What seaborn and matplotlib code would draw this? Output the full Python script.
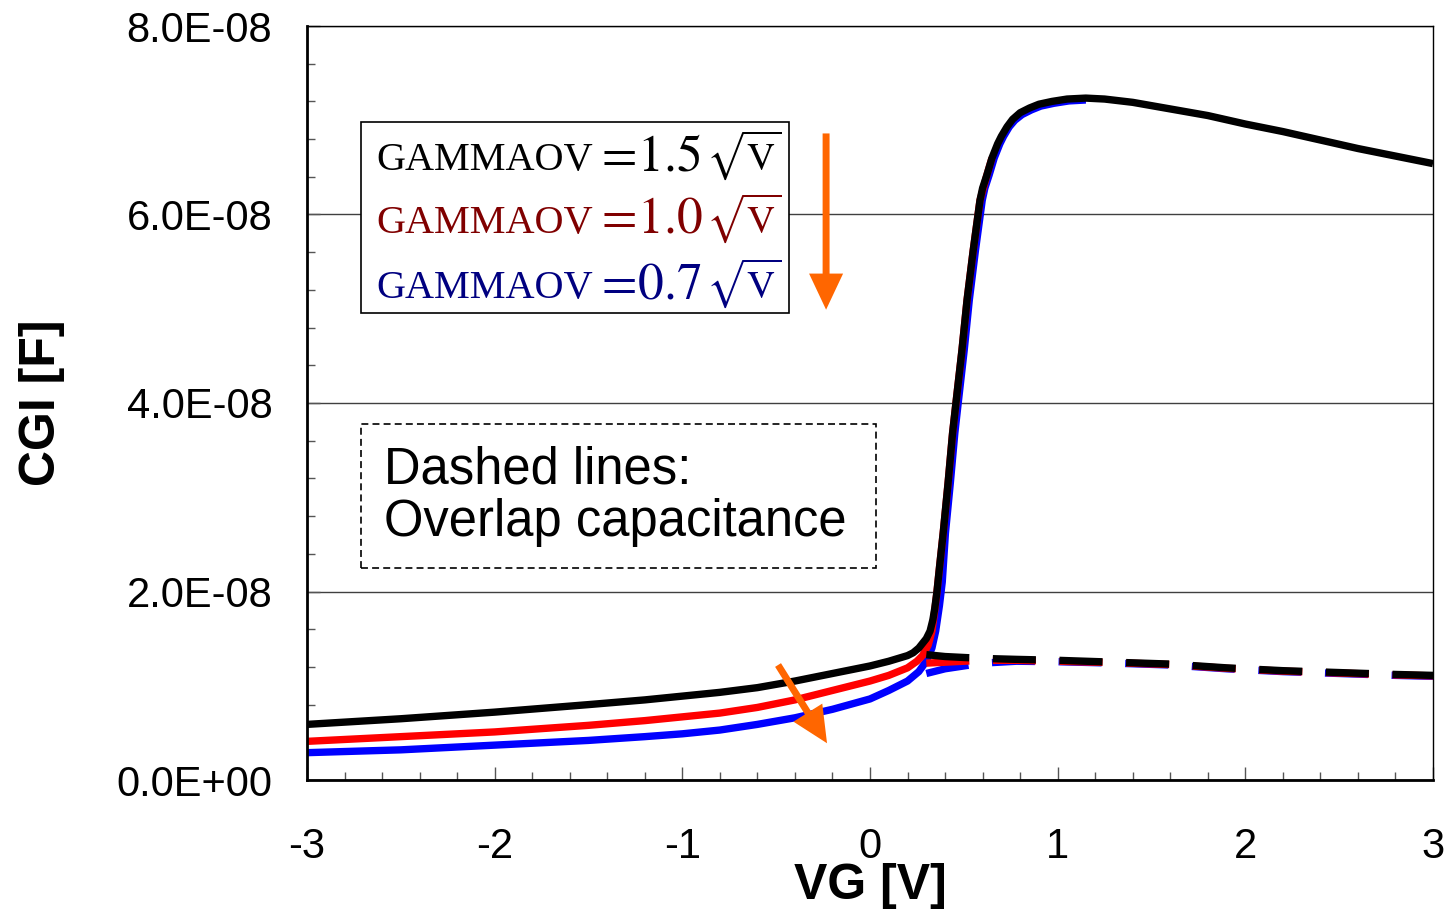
import matplotlib
matplotlib.use("Agg")
import matplotlib.pyplot as plt
from matplotlib.patches import Rectangle
from matplotlib.ticker import MultipleLocator, FuncFormatter
import numpy as np
import pandas as pd
import seaborn as sns

# ---------------- data (CGI in units of 1E-08 F) ----------------
vg_black = [-3.0, -2.5, -2.0, -1.5, -1.2, -1.0, -0.8, -0.6, -0.4, -0.2, 0.0, 0.1,
            0.15, 0.20, 0.23, 0.26, 0.28, 0.30, 0.32, 0.335, 0.345, 0.357, 0.37,
            0.39, 0.416, 0.44, 0.458, 0.49, 0.517, 0.55, 0.586, 0.60, 0.623, 0.65,
            0.68, 0.70, 0.73, 0.76, 0.80, 0.85, 0.90, 0.97, 1.05, 1.15, 1.25, 1.40,
            1.60, 1.80, 2.00, 2.20, 2.40, 2.60, 2.80, 3.00]
cgi_black = [0.59, 0.65, 0.72, 0.80, 0.85, 0.89, 0.93, 0.98, 1.05, 1.13, 1.21, 1.26,
             1.29, 1.32, 1.35, 1.40, 1.45, 1.50, 1.58, 1.70, 1.82, 2.00, 2.25,
             2.62, 3.15, 3.68, 4.00, 4.56, 5.09, 5.62, 6.15, 6.28, 6.42, 6.60,
             6.75, 6.83, 6.93, 7.01, 7.08, 7.13, 7.17, 7.20, 7.225, 7.235, 7.225, 7.19,
             7.12, 7.05, 6.96, 6.88, 6.79, 6.70, 6.62, 6.54]

vg_red = [-3.0, -2.5, -2.0, -1.5, -1.2, -1.0, -0.8, -0.6, -0.4, -0.2, 0.0, 0.1,
          0.2, 0.25, 0.28, 0.31, 0.33, 0.345, 0.357, 0.37, 0.39, 0.416, 0.44, 0.458,
          0.49, 0.517, 0.55, 0.586, 0.623, 0.65]
cgi_red = [0.41, 0.46, 0.51, 0.58, 0.63, 0.67, 0.71, 0.77, 0.85, 0.95, 1.05, 1.11,
           1.19, 1.26, 1.32, 1.43, 1.58, 1.80, 2.00, 2.25, 2.62, 3.15, 3.68, 4.00,
           4.56, 5.09, 5.62, 6.15, 6.42, 6.60]

vg_blue = [-3.0, -2.5, -2.0, -1.5, -1.2, -1.0, -0.8, -0.6, -0.4, -0.2, 0.0, 0.1,
           0.2, 0.26, 0.30, 0.33, 0.35, 0.37, 0.385, 0.402, 0.428, 0.452, 0.47,
           0.502, 0.529, 0.562, 0.598, 0.612, 0.635, 0.662, 0.692, 0.712, 0.742,
           0.772, 0.81, 0.86, 0.91, 0.98, 1.06, 1.15]
cgi_blue = [0.29, 0.32, 0.37, 0.42, 0.46, 0.49, 0.53, 0.59, 0.66, 0.75, 0.86, 0.95,
            1.05, 1.15, 1.26, 1.40, 1.58, 1.85, 2.10, 2.62, 3.15, 3.68, 4.00,
            4.56, 5.09, 5.62, 6.15, 6.28, 6.42, 6.60, 6.75, 6.83, 6.93, 7.00,
            7.06, 7.11, 7.15, 7.18, 7.205, 7.215]

# overlap capacitance (dashed)
vg_ov = [0.30, 0.40, 0.50, 0.60, 0.78, 1.00, 1.30, 1.60, 1.90, 2.20, 2.50, 2.80, 3.00]
ov_black = [1.33, 1.31, 1.30, 1.29, 1.28, 1.27, 1.25, 1.23, 1.19, 1.16, 1.14, 1.12, 1.11]
ov_red = [1.24, 1.25, 1.26, 1.27, 1.27, 1.26, 1.245, 1.225, 1.185, 1.155, 1.135, 1.115, 1.105]
ov_blue = [1.13, 1.18, 1.21, 1.24, 1.26, 1.255, 1.24, 1.22, 1.18, 1.15, 1.13, 1.11, 1.10]

x_ticks = [-3, -2, -1, 0, 1, 2, 3]
y_ticks = [0.0, 2.0, 4.0, 6.0, 8.0]
SCALE = 1e-8

legend_name = "GAMMAOV"
legend_values = ["1.5", "1.0", "0.7"]
legend_colors = ["#000000", "#800000", "#000080"]
note_lines = ["Dashed lines:", "Overlap capacitance"]

# ---------------- style ----------------
sns.set_theme(style="white")
plt.rcParams["font.family"] = ["Liberation Sans", "DejaVu Sans"]
plt.rcParams["mathtext.fontset"] = "stix"
plt.rcParams["lines.scale_dashes"] = False
for k in ["text.color", "axes.labelcolor", "xtick.color", "ytick.color"]:
    plt.rcParams[k] = "black"

fig = plt.figure(figsize=(14.49, 9.14), dpi=100)
ax = fig.add_axes([307 / 1449, 1 - 780 / 914, (1433 - 307) / 1449, (780 - 26) / 914])

LW = 5.3
DASH = (0, (31.0, 17.0))

def draw(x, y, color, ls="-"):
    df = pd.DataFrame({"VG": x, "CGI": np.asarray(y) * SCALE})
    sns.lineplot(data=df, x="VG", y="CGI", ax=ax, color=color, lw=LW, sort=False,
                 estimator=None, linestyle=ls, solid_capstyle="butt",
                 solid_joinstyle="round", dash_capstyle="butt", legend=False)

draw(vg_blue, cgi_blue, "#0000FF")
draw(vg_red, cgi_red, "#FF0000")
draw(vg_black, cgi_black, "#000000")
draw(vg_ov, ov_blue, "#0000FF", DASH)
draw(vg_ov, ov_red, "#FF0000", DASH)
draw(vg_ov, ov_black, "#000000", DASH)

ax.set_xlim(-3, 3)
ax.set_ylim(0, 8 * SCALE)
ax.set_xticks(x_ticks)
ax.set_yticks([v * SCALE for v in y_ticks])
ax.xaxis.set_minor_locator(MultipleLocator(0.2))
ax.yaxis.set_minor_locator(MultipleLocator(0.4 * SCALE))
ax.yaxis.set_major_formatter(FuncFormatter(lambda v, p: f"{v:.1E}"))
ax.xaxis.set_major_formatter(FuncFormatter(lambda v, p: f"{v:g}"))

ax.grid(axis="y", which="major", color="#404040", lw=1.0)
ax.grid(axis="x", visible=False)
ax.set_axisbelow(True)

ax.tick_params(axis="both", which="both", direction="in", labelcolor="black",
               labelsize=30, bottom=True, left=True, top=False, right=False)
ax.tick_params(axis="x", which="major", length=9.5, width=1.0, color="#555555", pad=34)
ax.tick_params(axis="x", which="minor", length=6, width=1.0, color="#555555")
ax.tick_params(axis="y", which="major", length=9.5, width=1.0, color="#555555", pad=25)
ax.tick_params(axis="y", which="minor", length=6, width=1.0, color="#555555")

for side in ["left", "bottom"]:
    ax.spines[side].set_linewidth(2.0)
    ax.spines[side].set_color("#000000")
for side in ["top", "right"]:
    ax.spines[side].set_linewidth(1.0)
    ax.spines[side].set_color("#000000")
    ax.spines[side].set_visible(True)

ax.set_xlabel("VG [V]", fontsize=36, fontweight="bold", labelpad=-3)
ax.set_ylabel("CGI [F]", fontsize=36, fontweight="bold", labelpad=37)

# ---------------- legend box ----------------
ax.add_patch(Rectangle((0.048, 0.619), 0.380, 0.254, transform=ax.transAxes,
                       fill=True, facecolor="white", edgecolor="black", lw=1.2, zorder=5))
for val, col, yb in zip(legend_values, legend_colors, [0.809, 0.7255, 0.639]):
    ax.text(0.0613, yb, legend_name, transform=ax.transAxes, color=col, fontsize=29,
            family="Liberation Serif", ha="left", va="baseline", zorder=6)
    ax.text(0.2549, yb, rf"$=\!{val}$", transform=ax.transAxes, color=col, fontsize=37,
            ha="left", va="baseline", zorder=6)
    ax.text(0.3543, yb, r"$\sqrt{\mathrm{V}}$", transform=ax.transAxes, color=col,
            fontsize=28, ha="left", va="baseline", zorder=6)

# ---------------- note box ----------------
ax.add_patch(Rectangle((0.048, 0.281), 0.4573, 0.191, transform=ax.transAxes,
                       fill=False, edgecolor="black", lw=1.2, ls=(0, (5, 3)), zorder=5))
for line, yb in zip(note_lines, [0.3926, 0.3236]):
    ax.text(0.0684, yb, line, transform=ax.transAxes, fontsize=36.5, ha="left",
            va="baseline", zorder=6)

# ---------------- arrows ----------------
ORANGE = "#FF6600"
arrow_v = ((-0.234, 6.86), (-0.234, 4.99))
arrow_d = ((-0.490, 1.22), (-0.229, 0.39))
for (x0, y0), (x1, y1) in [arrow_v, arrow_d]:
    ax.annotate("", xy=(x1, y1 * SCALE), xytext=(x0, y0 * SCALE),
                arrowprops=dict(arrowstyle="simple,head_length=26,head_width=24.5,tail_width=5",
                                mutation_scale=1, color=ORANGE, lw=0,
                                shrinkA=0, shrinkB=0), zorder=7)

fig.savefig("out.png", dpi=100)
